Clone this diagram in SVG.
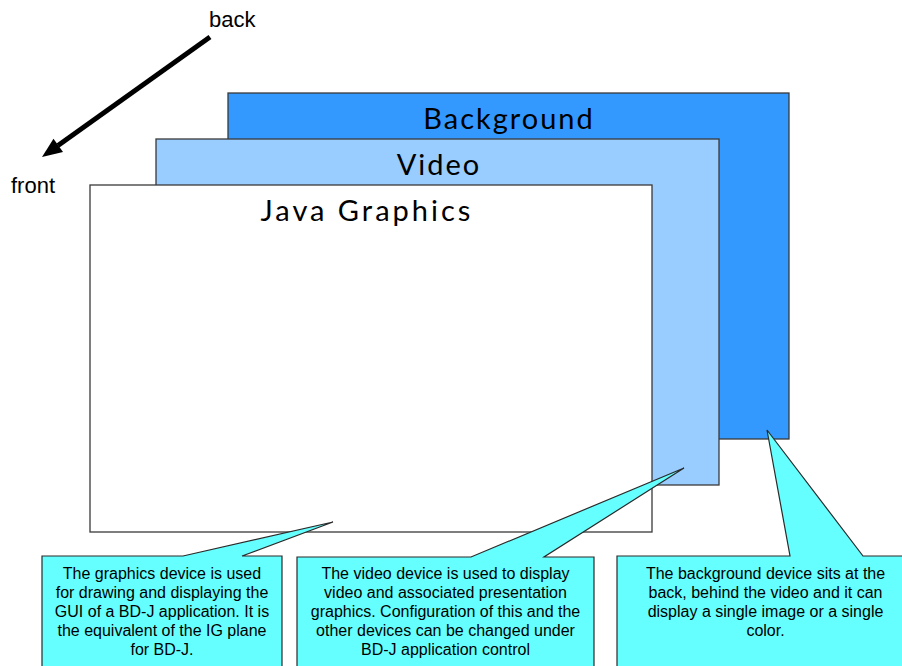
<svg xmlns="http://www.w3.org/2000/svg" width="902" height="666" viewBox="0 0 902 666">
<style>
.plane{stroke:#3a3a3a;stroke-width:1.3}
.title{font-family:Lato,"Open Sans",sans-serif;font-size:29px;fill:#000;text-anchor:middle;letter-spacing:2px}
.lbl{font-family:"Liberation Sans",Arial,sans-serif;font-size:22px;fill:#000}
.call{fill:#66FFFF;stroke:#2a2a2a;stroke-width:1.2;stroke-linejoin:miter}
.ct{font-family:"Liberation Sans",Arial,sans-serif;font-size:16px;fill:#000;text-anchor:middle}
</style>
<defs>
<marker id="ah" markerUnits="userSpaceOnUse" markerWidth="22" markerHeight="18" refX="2" refY="8" orient="auto" viewBox="0 0 22 16">
<path d="M0,0 L22,8 L0,16 Z" fill="#000"/>
</marker>
</defs>
<rect width="902" height="666" fill="#fff"/>
<g id="background-plane">
<rect class="plane" x="228" y="93" width="561" height="346" fill="#3399FF"/>
<text class="title" x="509" y="129">Background</text>
</g>
<g id="video-plane">
<rect class="plane" x="156" y="139" width="563" height="346" fill="#99CCFF"/>
<text class="title" x="439" y="175">Video</text>
</g>
<g id="graphics-plane">
<rect class="plane" x="90" y="185" width="562" height="347" fill="#FFFFFF"/>
<text class="title" x="367" y="221" style="letter-spacing:3px">Java Graphics</text>
</g>
<g id="connectors">
<line x1="210" y1="37" x2="58" y2="145.5" stroke="#000" stroke-width="5"/>
<path d="M42,157 L53.5,138.7 L63,152 Z" fill="#000"/>
</g>
<g id="label-back"><text class="lbl" x="209" y="27">back</text></g>
<g id="label-front"><text class="lbl" x="11" y="193">front</text></g>
<g id="callout-graphics">
<path class="call" d="M42,556 L183,556 L333,522 L242,556 L282,556 L282,680 L42,680 Z"/>
<text class="ct" x="162" y="579">The graphics device is used</text>
<text class="ct" x="162" y="598">for drawing and displaying the</text>
<text class="ct" x="162" y="617">GUI of a BD-J application. It is</text>
<text class="ct" x="162" y="636">the equivalent of the IG plane</text>
<text class="ct" x="162" y="655">for BD-J.</text>
</g>
<g id="callout-video">
<path class="call" d="M297,557 L471,557 L684,468 L544,557 L594,557 L594,680 L297,680 Z"/>
<text class="ct" x="445.5" y="579">The video device is used to display</text>
<text class="ct" x="445.5" y="598">video and associated presentation</text>
<text class="ct" x="445.5" y="617">graphics. Configuration of this and the</text>
<text class="ct" x="445.5" y="636">other devices can be changed under</text>
<text class="ct" x="445.5" y="655">BD-J application control</text>
</g>
<g id="callout-background">
<path class="call" d="M617,556 L790,556 L767,430 L863,556 L915,556 L915,680 L617,680 Z"/>
<text class="ct" x="765.5" y="579">The background device sits at the</text>
<text class="ct" x="765.5" y="598">back, behind the video and it can</text>
<text class="ct" x="765.5" y="617">display a single image or a single</text>
<text class="ct" x="765.5" y="636">color.</text>
</g>
</svg>
